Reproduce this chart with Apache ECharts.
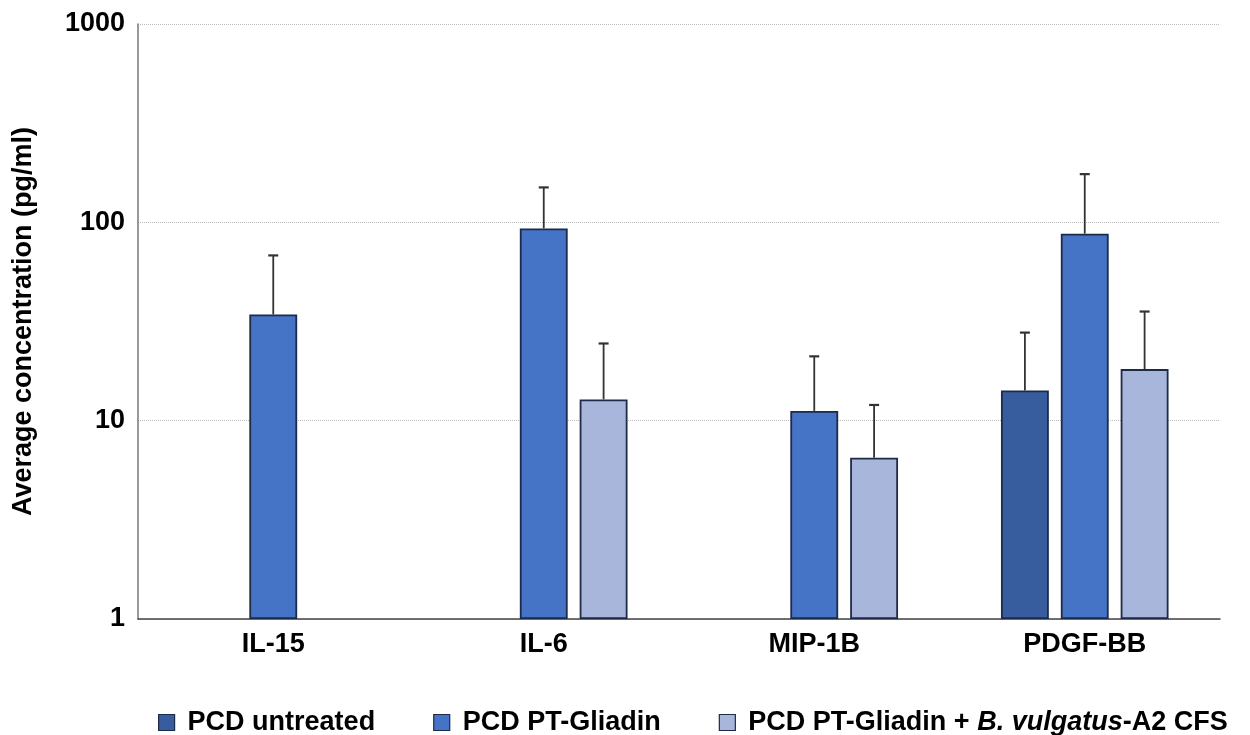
<!DOCTYPE html>
<html>
<head>
<meta charset="utf-8">
<script src="https://cdn.jsdelivr.net/npm/echarts@6/dist/echarts.min.js"></script>
<style>
  html, body { margin: 0; padding: 0; background: #fff; }
  #chart { width: 1250px; height: 735px; }
</style>
</head>
<body>
<div id="chart"></div>
<script>
var categories = ['IL-15', 'IL-6', 'MIP-1B', 'PDGF-BB'];
var seriesNames = ['PCD untreated', 'PCD PT-Gliadin', 'PCD PT-Gliadin + B. vulgatus-A2 CFS'];
var yTicks = [1, 10, 100, 1000];

// means (pg/ml), null = not shown
var untreated = [null, null, null, 14.2];
var ptGliadin = [34.3, 93.2, 11.2, 87.7];
var ptBv = [null, 12.8, 6.5, 18.2];

// upper error (sd) added on top of the mean
var untreatedSd = [null, null, null, 13.6];
var ptGliadinSd = [33.8, 56.8, 9.9, 87.3];
var ptBvSd = [null, 11.7, 5.5, 17.3];

var colors = ['#385d9f', '#4573c5', '#a8b6db'];
var BAR_W = 0.177;   // share of the category band
var BAR_GAP = 0.25;  // share of bar width

var myChart = echarts.init(document.getElementById('chart'));

function errData(means, sds) {
    var out = [];
    for (var i = 0; i < means.length; i++) {
        if (means[i] != null && sds[i] != null) {
            out.push([i, means[i], means[i] + sds[i]]);
        }
    }
    return out;
}

function errRender(slot) {
    return function (params, api) {
        var cat = api.value(0);
        var mean = api.value(1);
        var top = api.value(2);
        var p0 = api.coord([cat, mean]);
        var p1 = api.coord([cat, top]);
        var band = api.coord([1, mean])[0] - api.coord([0, mean])[0];
        var bw = band * BAR_W;
        var x = p0[0] + (slot - 1) * (bw + bw * BAR_GAP);
        var st = { stroke: '#333', lineWidth: 1.8 };
        return {
            type: 'group',
            children: [
                { type: 'line', shape: { x1: x, y1: p0[1], x2: x, y2: p1[1] }, style: st },
                { type: 'line', shape: { x1: x - 5, y1: p1[1], x2: x + 5, y2: p1[1] }, style: { stroke: '#333', lineWidth: 2.2 } }
            ]
        };
    };
}

function barSeries(name, data, color) {
    return {
        name: name,
        type: 'bar',
        data: data,
        barWidth: (BAR_W * 100) + '%',
        barGap: (BAR_GAP * 100) + '%',
        itemStyle: { color: color, borderColor: '#1d2a48', borderWidth: 1.8 }
    };
}

function errSeries(data, slot) {
    return {
        type: 'custom',
        renderItem: errRender(slot),
        data: data,
        encode: { x: 0, y: 1 },
        z: 3,
        silent: true
    };
}

var option = {
    animation: false,
    textStyle: { fontFamily: 'Liberation Sans, Arial, sans-serif' },
    grid: { left: 138, right: 30, top: 24, bottom: 116 },
    legend: {
        data: seriesNames,
        left: 153,
        top: 704,
        itemWidth: 16,
        itemHeight: 16,
        itemGap: 58,
        icon: 'rect',
        itemStyle: { borderColor: '#1d2a48', borderWidth: 1.2 },
        formatter: function (name) {
            if (name === seriesNames[2]) {
                return 'PCD PT-Gliadin + {i|B. vulgatus}-A2 CFS';
            }
            return name;
        },
        textStyle: {
            fontSize: 27,
            fontWeight: 'bold',
            color: '#000',
            padding: [0, 0, 0, 8],
            rich: {
                i: { fontSize: 27, fontWeight: 'bold', fontStyle: 'italic', color: '#000' }
            }
        }
    },
    xAxis: {
        type: 'category',
        data: categories,
        axisTick: { show: false },
        axisLine: { lineStyle: { color: '#444', width: 1.5 } },
        axisLabel: { fontSize: 27, fontWeight: 'bold', color: '#000', margin: 12 }
    },
    yAxis: {
        type: 'log',
        logBase: 10,
        min: yTicks[0],
        max: yTicks[yTicks.length - 1],
        name: 'Average concentration (pg/ml)',
        nameLocation: 'middle',
        nameRotate: 90,
        nameGap: 101,
        nameTextStyle: { fontSize: 27, fontWeight: 'bold', color: '#000' },
        axisLine: { show: true, lineStyle: { color: '#777', width: 1.5 } },
        axisTick: { show: false },
        axisLabel: {
            fontSize: 27, fontWeight: 'bold', color: '#000', margin: 13,
            formatter: function (v) { return String(Math.round(v)); }
        },
        splitLine: { show: true, lineStyle: { color: '#bbb', type: 'dotted', width: 1 } }
    },
    series: [
        barSeries(seriesNames[0], untreated, colors[0]),
        barSeries(seriesNames[1], ptGliadin, colors[1]),
        barSeries(seriesNames[2], ptBv, colors[2]),
        errSeries(errData(untreated, untreatedSd), 0),
        errSeries(errData(ptGliadin, ptGliadinSd), 1),
        errSeries(errData(ptBv, ptBvSd), 2)
    ]
};

option && myChart.setOption(option);
</script>
</body>
</html>
